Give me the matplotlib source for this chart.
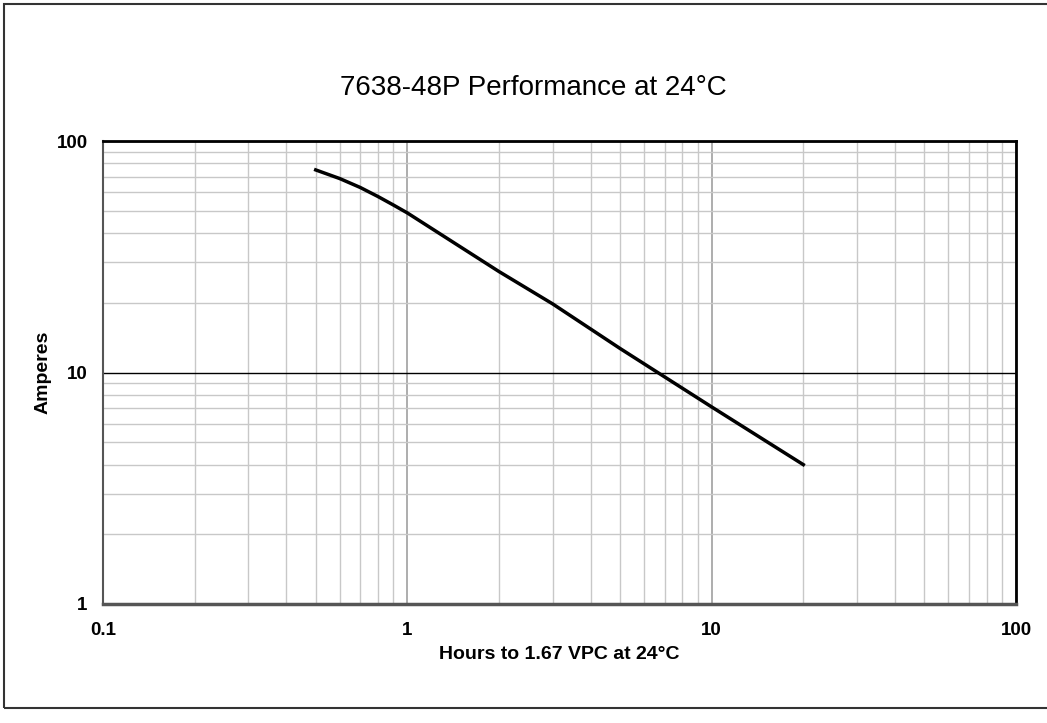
import matplotlib
matplotlib.use("Agg")
import matplotlib.pyplot as plt
from matplotlib.patches import Rectangle
from matplotlib.ticker import FixedLocator, NullFormatter

plt.rcParams['font.family'] = ['Liberation Sans', 'DejaVu Sans']

# values
hours = [0.5, 0.6, 0.7, 0.8, 0.9, 1, 2, 3, 5, 10, 20]
amps = [75, 68.8, 63.0, 57.6, 52.9, 48.9, 27.3, 19.8, 12.7, 7.1, 4.0]

x_ticks = [0.1, 1, 10, 100]
x_labels = ["0.1", "1", "10", "100"]
y_ticks = [1, 10, 100]
y_labels = ["1", "10", "100"]

fig = plt.figure(figsize=(10.47, 7.23), dpi=100)
ax = fig.add_axes([103 / 1047, 1 - 604 / 723, (1016 - 103) / 1047, (604 - 141) / 723])

ax.set_xscale("log")
ax.set_yscale("log")
ax.set_xlim(0.1, 100)
ax.set_ylim(1, 100)

# grid lines
minor = [m * d for d in (0.1, 1, 10) for m in range(2, 10)]
ax.xaxis.set_minor_locator(FixedLocator(minor))
ax.yaxis.set_minor_locator(FixedLocator([m * d for d in (1, 10) for m in range(2, 10)]))
ax.xaxis.set_minor_formatter(NullFormatter())
ax.yaxis.set_minor_formatter(NullFormatter())
ax.grid(which="minor", axis="both", color="#c8c8c8", lw=1.0)
ax.grid(which="major", axis="x", color="#a0a0a0", lw=1.2)
ax.grid(which="major", axis="y", color="#000000", lw=1.0)
ax.set_axisbelow(True)

ax.plot(hours, amps, color="black", lw=2.5, zorder=3, solid_joinstyle="round")

ax.set_xticks(x_ticks)
ax.set_xticklabels(x_labels)
ax.set_yticks(y_ticks)
ax.set_yticklabels(y_labels)
ax.tick_params(which="both", length=0)
ax.tick_params(axis="x", pad=13, labelsize=13.5)
ax.tick_params(axis="y", pad=11, labelsize=13.5)
for lab in ax.get_xticklabels() + ax.get_yticklabels():
    lab.set_fontweight("bold")

ax.set_xlabel("Hours to 1.67 VPC at 24°C", fontsize=14, fontweight="bold", labelpad=5)
ax.set_ylabel("Amperes", fontsize=14, fontweight="bold", labelpad=4)
fig.text(533.5 / 1047, 1 - 88 / 723, "7638-48P Performance at 24°C", fontsize=20,
         ha="center", va="center")

ax.spines["top"].set_color("black")
ax.spines["top"].set_linewidth(2)
ax.spines["right"].set_color("black")
ax.spines["right"].set_linewidth(2)
ax.spines["bottom"].set_color("#555555")
ax.spines["bottom"].set_linewidth(2.5)
ax.spines["left"].set_color("#555555")
ax.spines["left"].set_linewidth(1.5)

# outer chart border (right side runs off the image)
fig.patches.append(Rectangle((4 / 1047, 1 - 708 / 723), 1.1, (708 - 4) / 723,
                             transform=fig.transFigure, fill=False,
                             edgecolor="#333333", lw=1.5))

fig.savefig("out.png", dpi=100)
